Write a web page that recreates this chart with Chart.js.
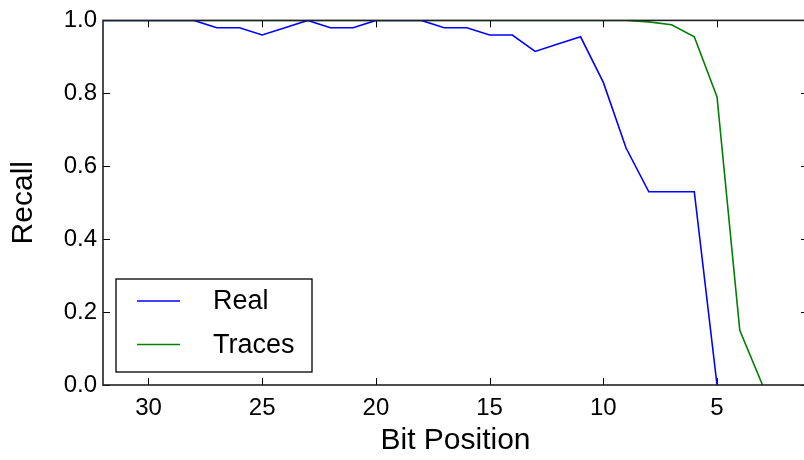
<!DOCTYPE html>
<html>
<head>
<meta charset="utf-8">
<script src="https://cdn.jsdelivr.net/npm/chart.js@4.4.1/dist/chart.umd.min.js"></script>
<style>
  html, body { margin: 0; padding: 0; background: #fff; overflow: hidden; }
  #wrap { width: 804px; height: 460px; overflow: hidden; position: relative; }
  canvas { display: block; }
</style>
</head>
<body>
<div id="wrap"><canvas id="c" width="812" height="460"></canvas></div>
<script>
// ---- data ----
const realBits   = [32,31,30,29,28,27,26,25,24,23,22,21,20,19,18,17,16,15,14,13,12,11,10,9,8,7,6,5];
const realRecall = [1,1,1,1,1,0.98,0.98,0.96,0.98,1,0.98,0.98,1,1,1,0.98,0.98,0.96,0.96,0.915,0.935,0.955,0.83,0.65,0.53,0.53,0.53,0];
const traceBits   = [32,31,30,29,28,27,26,25,24,23,22,21,20,19,18,17,16,15,14,13,12,11,10,9,8,7,6,5,4,3];
const traceRecall = [1,1,1,1,1,1,1,1,1,1,1,1,1,1,1,1,1,1,1,1,1,1,1,1,0.996,0.988,0.955,0.79,0.15,0];
const xTickValues = [30,25,20,15,10,5];
const yTickValues = [0,0.2,0.4,0.6,0.8,1.0];
const seriesNames = ['Real','Traces'];
const xTitle = 'Bit Position';
const yTitle = 'Recall';

const FONT = '"Liberation Sans", Arial, Helvetica, sans-serif';

const framePlugin = {
  id: 'frame',
  afterDatasetsDraw(chart) {
    const {ctx, chartArea: a, scales: {x, y}} = chart;
    const TL = 7;
    ctx.save();
    ctx.strokeStyle = '#000';
    ctx.lineWidth = 1;
    // inward ticks
    ctx.beginPath();
    xTickValues.forEach(v => {
      const px = Math.round(x.getPixelForValue(v)) + 0.5;
      ctx.moveTo(px, a.bottom); ctx.lineTo(px, a.bottom - TL);
      ctx.moveTo(px, a.top); ctx.lineTo(px, a.top + TL);
    });
    yTickValues.forEach(v => {
      const py = Math.round(y.getPixelForValue(v)) + 0.5;
      ctx.moveTo(a.left, py); ctx.lineTo(a.left + TL, py);
      ctx.moveTo(a.right, py); ctx.lineTo(a.right - TL, py);
    });
    ctx.stroke();
    // spines
    ctx.strokeStyle = '#222';
    ctx.lineWidth = 1.6;
    ctx.strokeRect(a.left, a.top, a.right - a.left, a.bottom - a.top);
    ctx.restore();
  },
  afterDraw(chart) {
    const {ctx, chartArea: a} = chart;
    const bx = a.left + 13, bw = 196, bh = 93;
    const by = a.bottom - 13 - bh;
    ctx.save();
    ctx.fillStyle = '#fff';
    ctx.fillRect(bx, by, bw, bh);
    ctx.strokeStyle = '#000';
    ctx.lineWidth = 1.3;
    ctx.strokeRect(bx, by, bw, bh);
    ctx.font = '27px ' + FONT;
    ctx.textBaseline = 'middle';
    ctx.textAlign = 'left';
    chart.data.datasets.forEach((ds, i) => {
      const ly = by + 22 + i * 43.5;
      ctx.strokeStyle = ds.borderColor;
      ctx.lineWidth = 1.6;
      ctx.beginPath();
      ctx.moveTo(bx + 21, ly); ctx.lineTo(bx + 64, ly);
      ctx.stroke();
      ctx.fillStyle = '#000';
      ctx.fillText(ds.label, bx + 97, ly + 1);
    });
    ctx.restore();
  }
};

new Chart(document.getElementById('c'), {
  type: 'line',
  data: {
    datasets: [
      {
        label: seriesNames[0],
        data: realBits.map((b, i) => ({x: b, y: realRecall[i]})),
        borderColor: '#0000ff',
        borderWidth: 1.6,
        pointRadius: 0,
        tension: 0,
        fill: false
      },
      {
        label: seriesNames[1],
        data: traceBits.map((b, i) => ({x: b, y: traceRecall[i]})),
        borderColor: '#008000',
        borderWidth: 1.6,
        pointRadius: 0,
        tension: 0,
        fill: false
      }
    ]
  },
  options: {
    responsive: false,
    animation: false,
    devicePixelRatio: 1,
    layout: { padding: { top: 20, right: 4, left: 0, bottom: 0 } },
    plugins: { legend: { display: false }, tooltip: { enabled: false } },
    scales: {
      x: {
        type: 'linear',
        reverse: true,
        min: 1,
        max: 32,
        afterBuildTicks: s => { s.ticks = xTickValues.map(v => ({value: v})); },
        afterFit: s => { s.height = 75; },
        grid: { display: false, drawTicks: false },
        border: { display: false },
        ticks: { font: { size: 24, family: FONT }, color: '#000', padding: 9, maxRotation: 0, autoSkip: false },
        title: { display: true, text: xTitle, font: { size: 30, family: FONT }, color: '#000', padding: { top: 0, bottom: 1 } }
      },
      y: {
        type: 'linear',
        min: 0,
        max: 1,
        afterBuildTicks: s => { s.ticks = yTickValues.map(v => ({value: v})); },
        afterFit: s => { s.width = 103; },
        grid: { display: false, drawTicks: false },
        border: { display: false },
        ticks: { font: { size: 24, family: FONT }, color: '#000', padding: 6, callback: v => Number(v).toFixed(1) },
        title: { display: true, text: yTitle, font: { size: 30, family: FONT }, color: '#000', padding: { top: 6, bottom: 0 } }
      }
    }
  },
  plugins: [framePlugin]
});
</script>
</body>
</html>
